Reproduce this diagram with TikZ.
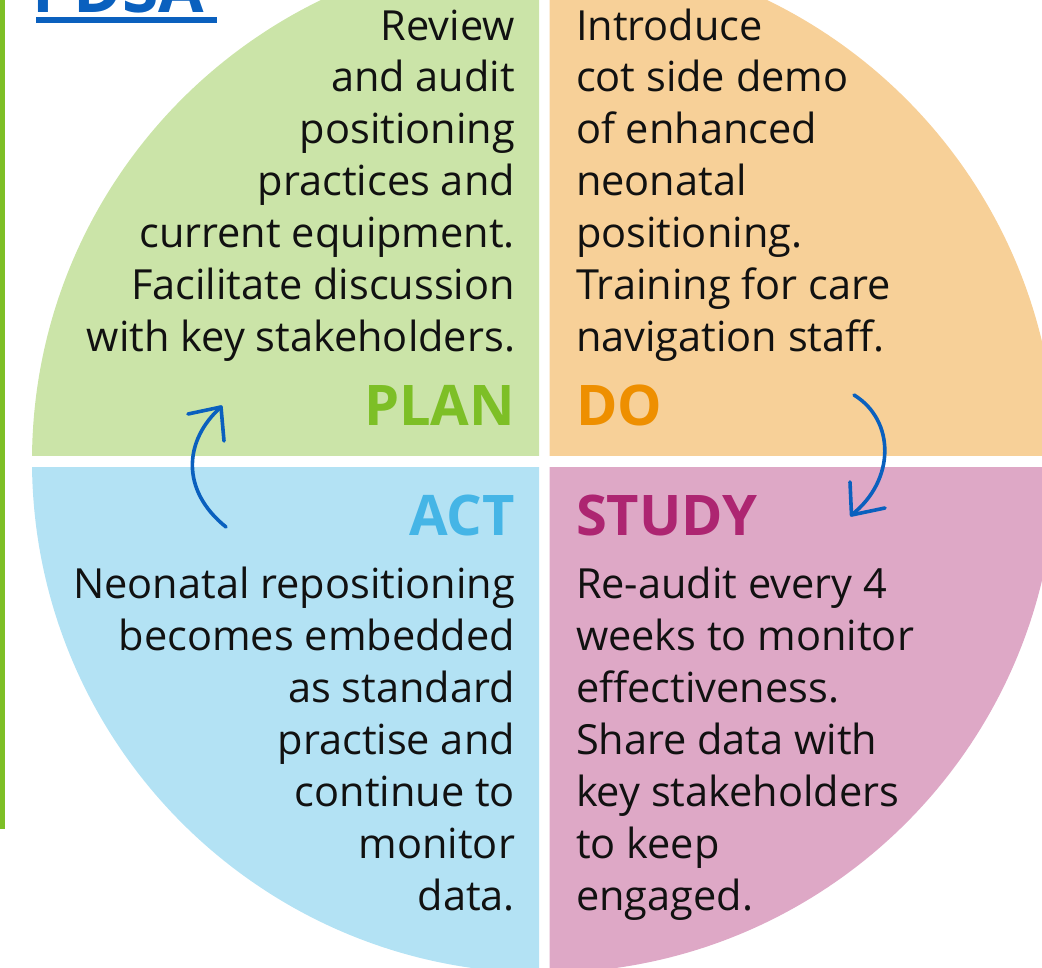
\documentclass[tikz,border=0pt]{standalone}
\usepackage{fontspec}
\setmainfont{Open Sans}
\definecolor{qgreen}{HTML}{CBE4A8}
\definecolor{qorange}{HTML}{F7D098}
\definecolor{qblue}{HTML}{B3E2F4}
\definecolor{qpink}{HTML}{DEA8C6}
\definecolor{lplan}{HTML}{7DBF26}
\definecolor{ldo}{HTML}{EE8F00}
\definecolor{lact}{HTML}{45B5E6}
\definecolor{lstudy}{HTML}{AD2571}
\definecolor{arrblue}{HTML}{0A60BE}
\definecolor{txt}{HTML}{111111}
\tikzset{
  body/.style={font=\fontsize{41.5}{52}\selectfont, text=txt, inner sep=0pt, outer sep=0pt},
  bodyR/.style={body, align=right, anchor=base east},
  bodyL/.style={body, align=left, anchor=base west},
  phase/.style={font=\fontsize{56}{60}\selectfont\bfseries, inner sep=0pt, outer sep=0pt},
  cyc/.style={draw=arrblue, line width=3.6pt, line cap=round, line join=round},
}
\begin{document}
\begin{tikzpicture}[x=1pt,y=-1pt]
\useasboundingbox (0,0) rectangle (1042,968);
% quadrants
\begin{scope}
  \clip (0,0) rectangle (539,455);
  \fill[qgreen] (544,461) circle[radius=512pt];
\end{scope}
\begin{scope}
  \clip (549.5,0) rectangle (1042,455);
  \fill[qorange] (544,461) circle[radius=512pt];
\end{scope}
\begin{scope}
  \clip (0,467) rectangle (539,968);
  \fill[qblue] (544,461) circle[radius=512pt];
\end{scope}
\begin{scope}
  \clip (549.5,467) rectangle (1042,968);
  \fill[qpink] (544,461) circle[radius=512pt];
\end{scope}
% side bar and title
\fill[lplan] (0,0) rectangle (4.5,829);
\node[font=\fontsize{66}{70}\selectfont\bfseries, text=arrblue, inner sep=0pt, anchor=base west] (title) at (32,13) {PDSA};
\fill[arrblue] (36,17.3) rectangle (217,22.7);
% texts (anchored at the baseline of the last line)
\node[bodyR] (plantxt) at (515,352) {Review\\and audit\\positioning\\practices and\\current equipment.\\Facilitate discussion\\with key stakeholders.};
\node[bodyL] (dotxt) at (576,352) {Introduce\\cot side demo\\of enhanced\\neonatal\\positioning.\\Training for care\\navigation staff.};
\node[bodyR] (acttxt) at (515,910) {Neonatal repositioning\\becomes embedded\\as standard\\practise and\\continue to\\monitor\\data.};
\node[bodyL] (studytxt) at (576,910) {Re-audit every 4\\weeks to monitor\\effectiveness.\\Share data with\\key stakeholders\\to keep\\engaged.};
% phase labels
\node[phase, text=lplan, anchor=base east] (plan) at (515,425.7) {PLAN};
\node[phase, text=ldo, anchor=base west] (do) at (576,425.7) {DO};
\node[phase, text=lact, anchor=base east] (act) at (515,535) {ACT};
\node[phase, text=lstudy, anchor=base west] (study) at (576,535) {STUDY};
% cycle arrows
\coordinate (a1s) at (226,527);
\coordinate (a1t) at (221,407);
\draw[cyc] (a1s) .. controls (180,490) and (184,440) .. (a1t);
\draw[cyc] (188,414) -- (a1t) -- (224,441);
\coordinate (a2s) at (854,395);
\coordinate (a2t) at (851.5,515);
\draw[cyc] (a2s) .. controls (895,420) and (896,480) .. (a2t);
\draw[cyc] (850,482) -- (a2t) -- (885,508);
\end{tikzpicture}
\end{document}
